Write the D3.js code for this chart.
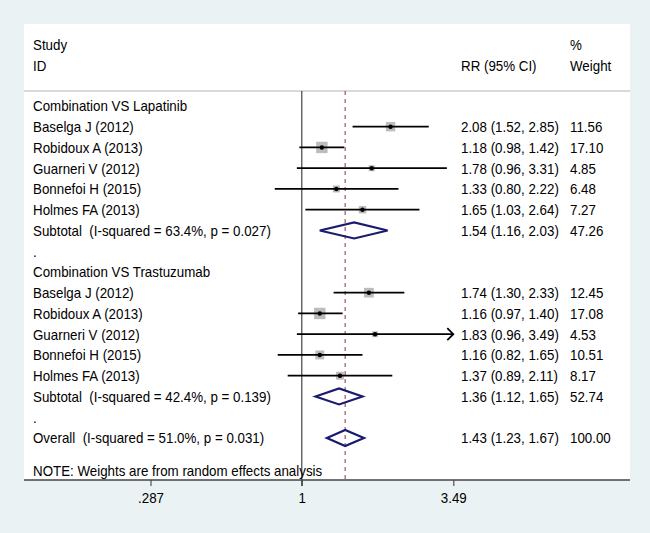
<!DOCTYPE html>
<html>
<head>
<meta charset="utf-8">
<script src="https://cdn.jsdelivr.net/npm/d3@7"></script>
<style>
  html, body { margin: 0; padding: 0; background: #eaf2f3; }
  svg { display: block; }
  text { font-family: "Liberation Sans", Arial, sans-serif; font-size: 14.5px; fill: #000; white-space: pre; }
</style>
</head>
<body>
<svg id="chart" width="650" height="533"></svg>
<script>
// ---------------- DATA ----------------
const studies = ["Baselga J (2012)", "Robidoux A (2013)", "Guarneri V (2012)", "Bonnefoi H (2015)", "Holmes FA (2013)"];
const groupNames = ["Combination VS Lapatinib", "Combination VS Trastuzumab"];

const lapRR = [2.08, 1.18, 1.78, 1.33, 1.65];
const lapLo = [1.52, 0.98, 0.96, 0.80, 1.03];
const lapHi = [2.85, 1.42, 3.31, 2.22, 2.64];
const lapW  = [11.56, 17.10, 4.85, 6.48, 7.27];

const traRR = [1.74, 1.16, 1.83, 1.16, 1.37];
const traLo = [1.30, 0.97, 0.96, 0.82, 0.89];
const traHi = [2.33, 1.40, 3.49, 1.65, 2.11];
const traW  = [12.45, 17.08, 4.53, 10.51, 8.17];

const subRR = [1.54, 1.36];
const subLo = [1.16, 1.12];
const subHi = [2.03, 1.65];
const subW  = [47.26, 52.74];
const subHet = ["I-squared = 63.4%, p = 0.027", "I-squared = 42.4%, p = 0.139"];

const overallRR = 1.43, overallLo = 1.23, overallHi = 1.67, overallW = 100.00;
const overallHet = "I-squared = 51.0%, p = 0.031";

const tickValues = [0.287, 1, 3.49];
const tickLabels = [".287", "1", "3.49"];
const noteText = "NOTE: Weights are from random effects analysis";

// ---------------- LAYOUT ----------------
const svg = d3.select("#chart");
const SX = 0.92;
const fmt2 = d3.format(".2f");

const panel = {x0: 24, x1: 630, y0: 24, y1: 480};
const headerLineY = 91;
const row0 = 105.95, rowStep = 20.75;
const rowY = i => row0 + i * rowStep;
const baseOff = 5.3;
const xText = 33, xRR = 461, xW = 570;

const x = d3.scaleLog().domain([0.287, 3.49]).range([150.5, 453.3]);
const boxSize = d3.scaleSqrt().domain([0, 100]).range([0, 27.5]);

function txt(g, px, py, s, anchor) {
  return g.append("text")
    .attr("transform", `translate(${px},${py}) scale(${SX},1)`)
    .attr("text-anchor", anchor || "start")
    .text(s);
}

// panel
svg.append("rect").attr("x", panel.x0).attr("y", panel.y0)
  .attr("width", panel.x1 - panel.x0).attr("height", panel.y1 - panel.y0)
  .attr("fill", "#ffffff");

svg.append("line").attr("x1", panel.x0).attr("x2", panel.x1)
  .attr("y1", headerLineY).attr("y2", headerLineY)
  .attr("stroke", "#b4b4b4").attr("stroke-width", 1.2);

const g = svg.append("g");

// header
txt(g, xText, 50, "Study");
txt(g, xText, 71, "ID");
txt(g, xRR, 71, "RR (95% CI)");
txt(g, xW, 50, "%");
txt(g, xW, 71, "Weight");

// reference lines
g.append("line").attr("x1", x(1)).attr("x2", x(1))
  .attr("y1", headerLineY).attr("y2", 486)
  .attr("stroke", "#333").attr("stroke-width", 1.1);
g.append("line").attr("x1", x(overallRR)).attr("x2", x(overallRR))
  .attr("y1", headerLineY).attr("y2", panel.y1)
  .attr("stroke", "#a0405a").attr("stroke-width", 1.1)
  .attr("stroke-dasharray", "4,4");

// rows
const groups = [
  {name: groupNames[0], rr: lapRR, lo: lapLo, hi: lapHi, w: lapW},
  {name: groupNames[1], rr: traRR, lo: traLo, hi: traHi, w: traW}
];

const xMin = x.domain()[0], xMax = x.domain()[1];

function diamond(y, est, lo, hi) {
  const h = 8;
  const pts = [[x(lo), y], [x(est), y - h], [x(hi), y], [x(est), y + h]];
  g.append("path").attr("d", "M" + pts.map(p => p.join(",")).join("L") + "Z")
    .attr("fill", "none").attr("stroke", "#1a1a6e").attr("stroke-width", 2.2)
    .attr("stroke-linejoin", "miter");
}

groups.forEach((grp, gi) => {
  const base = gi * 8;
  txt(g, xText, rowY(base) + baseOff, grp.name);
  studies.forEach((s, i) => {
    const y = rowY(base + 1 + i);
    txt(g, xText, y + baseOff, s);
    txt(g, xRR, y + baseOff, `${fmt2(grp.rr[i])} (${fmt2(grp.lo[i])}, ${fmt2(grp.hi[i])})`);
    txt(g, xW, y + baseOff, fmt2(grp.w[i]));
    // box
    const b = boxSize(grp.w[i]);
    g.append("rect").attr("x", x(grp.rr[i]) - b / 2).attr("y", y - b / 2)
      .attr("width", b).attr("height", b).attr("fill", "#bcbcbc");
    // CI line
    const lo = Math.max(grp.lo[i], xMin), hi = Math.min(grp.hi[i], xMax);
    g.append("line").attr("x1", x(lo)).attr("x2", x(hi)).attr("y1", y).attr("y2", y)
      .attr("stroke", "#000").attr("stroke-width", 1.8);
    if (grp.hi[i] >= xMax) {
      g.append("path")
        .attr("d", `M${x(xMax) - 6},${y - 6}L${x(xMax)},${y}L${x(xMax) - 6},${y + 6}`)
        .attr("fill", "none").attr("stroke", "#000").attr("stroke-width", 1.8);
    }
    // point
    g.append("circle").attr("cx", x(grp.rr[i])).attr("cy", y).attr("r", 2.2).attr("fill", "#000");
  });
  const ys = rowY(base + 6);
  txt(g, xText, ys + baseOff, `Subtotal  (${subHet[gi]})`);
  txt(g, xRR, ys + baseOff, `${fmt2(subRR[gi])} (${fmt2(subLo[gi])}, ${fmt2(subHi[gi])})`);
  txt(g, xW, ys + baseOff, fmt2(subW[gi]));
  diamond(ys, subRR[gi], subLo[gi], subHi[gi]);
  txt(g, xText, rowY(base + 7) + baseOff, ".");
});

// overall
const yo = 438;
txt(g, xText, yo + baseOff, `Overall  (${overallHet})`);
txt(g, xRR, yo + baseOff, `${fmt2(overallRR)} (${fmt2(overallLo)}, ${fmt2(overallHi)})`);
txt(g, xW, yo + baseOff, fmt2(overallW));
diamond(yo, overallRR, overallLo, overallHi);

// note
txt(g, xText, 475.5, noteText);

// axis
svg.append("line").attr("x1", panel.x0).attr("x2", panel.x1)
  .attr("y1", panel.y1).attr("y2", panel.y1)
  .attr("stroke", "#444").attr("stroke-width", 1.3);

const axis = d3.axisBottom(x).tickValues(tickValues)
  .tickFormat((d, i) => tickLabels[i]).tickSize(6).tickPadding(6);
const ax = svg.append("g").attr("transform", `translate(0,${panel.y1})`).call(axis);
ax.select(".domain").remove();
ax.selectAll(".tick line").attr("stroke", "#444").attr("stroke-width", 1.1);
ax.selectAll(".tick text")
  .attr("font-family", "Liberation Sans, Arial, sans-serif")
  .attr("font-size", "14.5px").attr("fill", "#000")
  .attr("dy", null).attr("y", 23.5)
  .attr("transform", `scale(${SX},1)`)
  .attr("x", function(d) { return 0; });
</script>
</body>
</html>
